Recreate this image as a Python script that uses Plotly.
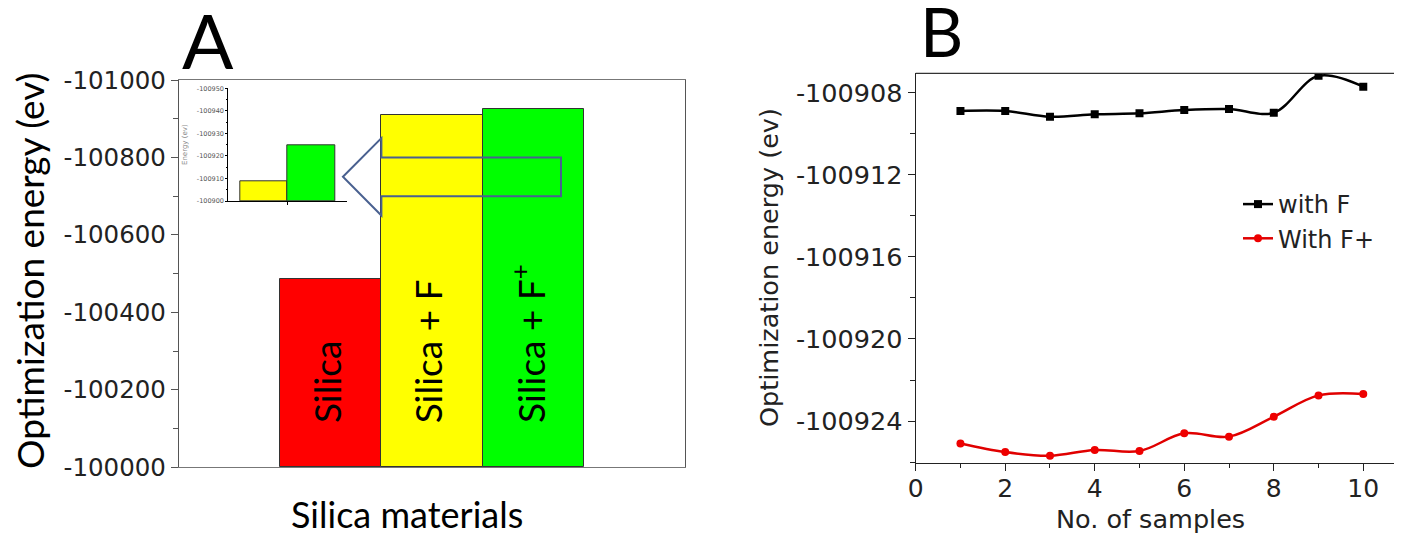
import plotly.graph_objects as go

# ---------------- data ----------------
materials = ["Silica", "Silica + F", "Silica + F<sup>+</sup>"]
material_energy = [-100486, -100909, -100926]
bar_colors = ["#ff0000", "#ffff00", "#00ff00"]
a_base = -100000
a_ticks = [-100000, -100200, -100400, -100600, -100800, -101000]

inset_energy = [-100908.6, -100924.7]
inset_colors = ["#ffff00", "#00ff00"]
inset_base = -100900
inset_ticks = [-100900, -100910, -100920, -100930, -100940, -100950]

samples = [1, 2, 3, 4, 5, 6, 7, 8, 9, 10]
with_f = [-100908.89, -100908.89, -100909.17, -100909.05, -100909.00,
          -100908.84, -100908.79, -100908.97, -100907.17, -100907.70]
with_f_plus = [-100925.09, -100925.51, -100925.69, -100925.41, -100925.46,
               -100924.60, -100924.76, -100923.79, -100922.75, -100922.68]
b_yticks = [-100908, -100912, -100916, -100920, -100924]
b_xticks = [0, 2, 4, 6, 8, 10]

# ---------------- geometry helpers ----------------
# the page body adds an 8px offset, so the figure is drawn 8px smaller
OFF = 8
W, H = 1402 - OFF, 534 - OFF
def fx(p):
    return (p - OFF) / W
def fy(p):
    return 1 - (p - OFF) / H

A_FONT = "Lato"
B_FONT = "DejaVu Sans"

fig = go.Figure()

# Panel A main bars
a_pos = [1.5, 2.5, 3.5]
fig.add_trace(go.Bar(
    x=a_pos, y=[v - a_base for v in material_energy], base=a_base,
    width=1.0, marker=dict(color=bar_colors, line=dict(color="#333333", width=1)),
    xaxis="x", yaxis="y", showlegend=False, hoverinfo="skip"))

# Inset bars
i_pos = [0.75, 1.75]
fig.add_trace(go.Bar(
    x=i_pos, y=[v - inset_base for v in inset_energy], base=inset_base,
    width=1.0, marker=dict(color=inset_colors, line=dict(color="#333333", width=1)),
    xaxis="x3", yaxis="y3", showlegend=False, hoverinfo="skip"))

# Panel B lines
fig.add_trace(go.Scatter(
    x=samples, y=with_f, name="with F", mode="lines+markers",
    line=dict(color="#000000", width=2.5, shape="spline", smoothing=1),
    marker=dict(symbol="square", size=8, color="#000000"),
    xaxis="x2", yaxis="y2"))
fig.add_trace(go.Scatter(
    x=samples, y=with_f_plus, name="With F+", mode="lines+markers",
    line=dict(color="#e00000", width=2.5, shape="spline", smoothing=1),
    marker=dict(symbol="circle", size=8, color="#ee0000"),
    xaxis="x2", yaxis="y2"))

annotations = []
# bar labels
for xp, label in zip(a_pos, materials):
    annotations.append(dict(
        x=xp, y=a_base, xref="x", yref="y", text=label, showarrow=False,
        textangle=-90, xanchor="center", yanchor="bottom", yshift=42, xshift=-5,
        font=dict(family=A_FONT, size=37, color="#000000")))

# titles
annotations += [
    dict(x=fx(208), y=fy(39), xref="paper", yref="paper", text="A", showarrow=False,
         xanchor="center", yanchor="middle", font=dict(family=A_FONT, size=76, color="#000")),
    dict(x=fx(941), y=fy(31), xref="paper", yref="paper", text="B", showarrow=False,
         xanchor="center", yanchor="middle", font=dict(family=A_FONT, size=67, color="#000")),
    dict(x=fx(29), y=fy(271), xref="paper", yref="paper", text="Optimization energy (ev)",
         showarrow=False, textangle=-90, xanchor="center", yanchor="middle",
         font=dict(family=A_FONT, size=37, color="#000")),
    dict(x=fx(407), y=fy(514), xref="paper", yref="paper", text="Silica materials",
         showarrow=False, xanchor="center", yanchor="middle",
         font=dict(family=A_FONT, size=36, color="#000")),
    dict(x=fx(769), y=fy(268), xref="paper", yref="paper", text="Optimization energy (ev)",
         showarrow=False, textangle=-90, xanchor="center", yanchor="middle",
         font=dict(family=B_FONT, size=25.5, color="#222")),
    dict(x=fx(1150), y=fy(519), xref="paper", yref="paper", text="No. of samples",
         showarrow=False, xanchor="center", yanchor="middle",
         font=dict(family=B_FONT, size=25.5, color="#222")),
    dict(x=fx(185), y=fy(145), xref="paper", yref="paper", text="Energy (ev)",
         showarrow=False, textangle=-90, xanchor="center", yanchor="middle",
         font=dict(family=B_FONT, size=7, color="#888")),
]

callout = ("M 1.62,-100750 L 2.0,-100850 L 2.0,-100800 L 3.775,-100800 "
           "L 3.775,-100700 L 2.0,-100700 L 2.0,-100650 Z")
shapes = [
    dict(type="path", xref="x", yref="y", path=callout,
         line=dict(color="#4a6190", width=2), fillcolor="rgba(0,0,0,0)", layer="above"),
    dict(type="line", xref="x2 domain", yref="y2 domain", x0=0, x1=1, y0=1, y1=1,
         line=dict(color="#333", width=1.3)),
]

fig.update_layout(
    width=W, height=H, autosize=False,
    margin=dict(l=0, r=0, t=0, b=0, pad=0, autoexpand=False),
    paper_bgcolor="white", plot_bgcolor="rgba(0,0,0,0)",
    bargap=0,
    annotations=annotations, shapes=shapes,
    xaxis=dict(domain=[fx(179), fx(685)], range=[0, 5], showticklabels=False,
               ticks="", showgrid=False, zeroline=False, showline=True, automargin=False,
               linecolor="#777", linewidth=1.3, mirror=True, anchor="y"),
    yaxis=dict(domain=[fy(467.3), fy(80)], range=[-100000, -101000], automargin=False,
               tickmode="array", tickvals=a_ticks, ticktext=[str(v) for v in a_ticks],
               ticks="outside", ticklen=7, tickcolor="#555", tickwidth=1.2,
               minor=dict(dtick=100, tick0=-100000, ticks="outside", ticklen=5,
                          tickcolor="#555", showgrid=False),
               tickfont=dict(family=B_FONT, size=24.5, color="#222"),
               showgrid=False, zeroline=False, showline=True, linecolor="#555",
               linewidth=1.3, mirror=True, anchor="x"),
    xaxis2=dict(domain=[fx(915.7), 1.0], range=[0, 10.865], automargin=False,
                tickmode="array", tickvals=b_xticks, ticktext=[str(v) for v in b_xticks],
                ticks="outside", ticklen=7, tickcolor="#222", tickwidth=1.2,
                minor=dict(dtick=1, tick0=0, ticks="outside", ticklen=4, tickcolor="#222",
                           showgrid=False),
                tickfont=dict(family=B_FONT, size=25, color="#222"), ticklabelstandoff=-4,
                showgrid=False, zeroline=False, showline=True, linecolor="#222",
                linewidth=1.3, anchor="y2"),
    yaxis2=dict(domain=[fy(462.7), fy(73.3)], range=[-100926.03, -100907.05], automargin=False,
                tickmode="array", tickvals=b_yticks, ticktext=[str(v) for v in b_yticks],
                ticks="outside", ticklen=7, tickcolor="#222", tickwidth=1.2,
                minor=dict(dtick=2, tick0=-100908, ticks="outside", ticklen=4.5,
                           tickcolor="#222", showgrid=False),
                tickfont=dict(family=B_FONT, size=25.5, color="#222"),
                showgrid=False, zeroline=False, showline=True, linecolor="#222",
                linewidth=1.3, anchor="x2"),
    xaxis3=dict(domain=[fx(228.3), fx(346.7)], range=[0, 2.5], automargin=False,
                tickmode="array", tickvals=[1.25], showticklabels=False,
                ticks="outside", ticklen=3, tickcolor="#000",
                showgrid=False, zeroline=False, showline=True, linecolor="#000",
                linewidth=1, anchor="y3"),
    yaxis3=dict(domain=[fy(201), fy(88.3)], range=[-100900, -100950], automargin=False,
                tickmode="array", tickvals=inset_ticks, ticktext=[str(v) for v in inset_ticks],
                ticks="outside", ticklen=2, tickcolor="#000",
                minor=dict(dtick=5, tick0=-100900, ticks="outside", ticklen=1.5,
                           tickcolor="#000", showgrid=False),
                tickfont=dict(family=B_FONT, size=6.5, color="#555"), ticklabelstandoff=0,
                showgrid=False, zeroline=False, showline=True, linecolor="#000",
                linewidth=1, anchor="x3"),
    legend=dict(x=fx(1238), y=fy(182), xanchor="left", yanchor="top",
                bgcolor="rgba(0,0,0,0)", font=dict(family=B_FONT, size=24, color="#222"),
                tracegroupgap=0),
)

fig.write_html("out.html")
